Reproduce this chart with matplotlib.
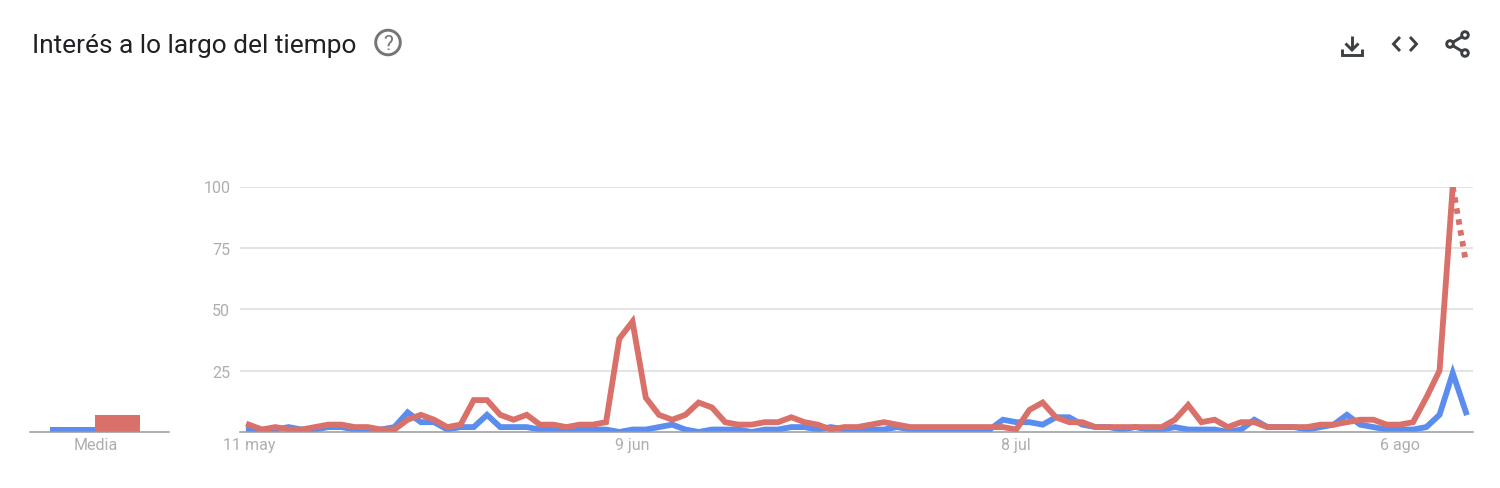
import matplotlib
matplotlib.use('Agg')
import matplotlib.pyplot as plt
from matplotlib.patches import Circle
import numpy as np

plt.rcParams['font.family'] = ['Roboto', 'DejaVu Sans']

# daily search interest
blue = [1, 1, 1, 2, 1, 1, 2, 2, 1, 1, 1, 2, 8, 4, 4, 1, 2, 2, 7, 2,
        2, 2, 1, 1, 1, 1, 1, 1, 0, 1, 1, 2, 3, 1, 0, 1, 1, 1, 0, 1,
        1, 2, 2, 1, 2, 1, 1, 1, 1, 2, 1, 1, 1, 1, 1, 1, 1, 5, 4, 4,
        3, 6, 6, 3, 2, 2, 1, 2, 1, 1, 2, 1, 1, 1, 0, 1, 5, 2, 2, 2,
        1, 2, 3, 7, 3, 2, 1, 1, 1, 2, 7, 24, 8]
red = [3, 1, 2, 1, 1, 2, 3, 3, 2, 2, 1, 1, 5, 7, 5, 2, 3, 13, 13, 7,
       5, 7, 3, 3, 2, 3, 3, 4, 38, 45, 14, 7, 5, 7, 12, 10, 4, 3, 3, 4,
       4, 6, 4, 3, 1, 2, 2, 3, 4, 3, 2, 2, 2, 2, 2, 2, 2, 2, 1, 9,
       12, 6, 4, 4, 2, 2, 2, 2, 2, 2, 5, 11, 4, 5, 2, 4, 4, 2, 2, 2,
       2, 3, 3, 4, 5, 5, 3, 3, 4, 14, 25, 100]
red_partial = [100, 69]
avg_labels = ['Media']
avg_blue = 2
avg_red = 7
x_ticks = [0, 29, 58, 87]
x_labels = ['11 may', '9 jun', '8 jul', '6 ago']
y_ticks = [25, 50, 75, 100]

W = 1500
H = 489
BLUE = '#5a8dee'
RED = '#d9706a'
GREY = '#aeaeae'
DARK = '#3c4043'
LINE = 4.2


# makes axes from a box given in picture pixels
def pixelAxes(fig, left, top, right, bottom):
    return fig.add_axes((left/W, 1 - bottom/H, (right - left)/W, (bottom - top)/H))


def plotTrend(fig):
    ax = pixelAxes(fig, 240, 187.5, 1473, 433)
    days = np.arange(len(blue))
    ax.plot(days, blue, color=BLUE, lw=LINE, solid_joinstyle='miter')
    ax.plot(days[:len(red)], red, color=RED, lw=LINE, solid_joinstyle='miter')
    ax.plot(days[len(red) - 1:], red_partial, color=RED, lw=LINE,
            linestyle=(0, (0.95, 0.95)))
    ax.set_xlim(-0.67, 92.53)
    ax.set_ylim(0, 100)
    ax.set_xticks(x_ticks, x_labels)
    ax.set_yticks(y_ticks)
    ax.grid(axis='y', color='#dddddd', lw=1.1)
    ax.set_axisbelow(True)
    ax.tick_params(length=0, labelcolor=GREY, labelsize=11.5)
    ax.tick_params(axis='x', pad=3.5)
    ax.tick_params(axis='y', pad=7)
    for side in ('top', 'left', 'right'):
        ax.spines[side].set_visible(False)
    ax.spines['bottom'].set_color('#999999')
    ax.spines['bottom'].set_linewidth(1.1)


def plotAverage(fig):
    ax = pixelAxes(fig, 30, 187.5, 169, 433)
    ax.bar([72.5], [avg_blue], width=45, color=BLUE)
    ax.bar([117.5], [avg_red], width=45, color=RED)
    ax.set_xlim(30, 169)
    ax.set_ylim(0, 100)
    ax.set_xticks([96], avg_labels)
    ax.set_yticks([])
    ax.tick_params(length=0, labelcolor=GREY, labelsize=11.5, pad=3.5)
    ax.patch.set_alpha(0)
    for side in ('top', 'left', 'right'):
        ax.spines[side].set_visible(False)
    ax.spines['bottom'].set_color('#999999')
    ax.spines['bottom'].set_linewidth(1.1)


# title and the header icons, on an overlay in pixel coordinates
def addHeader(fig):
    ax = fig.add_axes((0, 0, 1, 1))
    ax.set_xlim(0, W)
    ax.set_ylim(H, 0)
    ax.axis('off')
    ax.text(32, 46.5, 'Interés a lo largo del tiempo', fontsize=18.9, color='#202124',
            va='center', ha='left')

    ax.add_patch(Circle((388, 43.5), 12.3, fill=False, ec='#757575', lw=2.1))
    ax.text(388, 44, '?', fontsize=15, color='#757575', ha='center', va='center')

    style = dict(color=DARK, lw=2.1, solid_capstyle='butt', solid_joinstyle='miter')
    # download
    ax.plot([1352, 1352], [37, 50], **style)
    ax.plot([1345.5, 1352, 1358.5], [44.5, 51, 44.5], **style)
    ax.plot([1342, 1342, 1362, 1362], [50, 56, 56, 50], **style)
    # embed
    ax.plot([1400, 1393.5, 1400], [38, 45, 52], **style)
    ax.plot([1410, 1416.5, 1410], [38, 45, 52], **style)
    # share
    ax.plot([1465, 1450, 1465], [36, 45, 54], **style)
    for cx, cy in ((1465, 36), (1450, 45), (1465, 54)):
        ax.add_patch(Circle((cx, cy), 3.3, fc='white', ec=DARK, lw=2.1, zorder=3))


def main():
    fig = plt.figure(figsize=(W/100, H/100), dpi=100, facecolor='white')
    plotTrend(fig)
    plotAverage(fig)
    addHeader(fig)
    fig.savefig('out.png', dpi=100)


main()
